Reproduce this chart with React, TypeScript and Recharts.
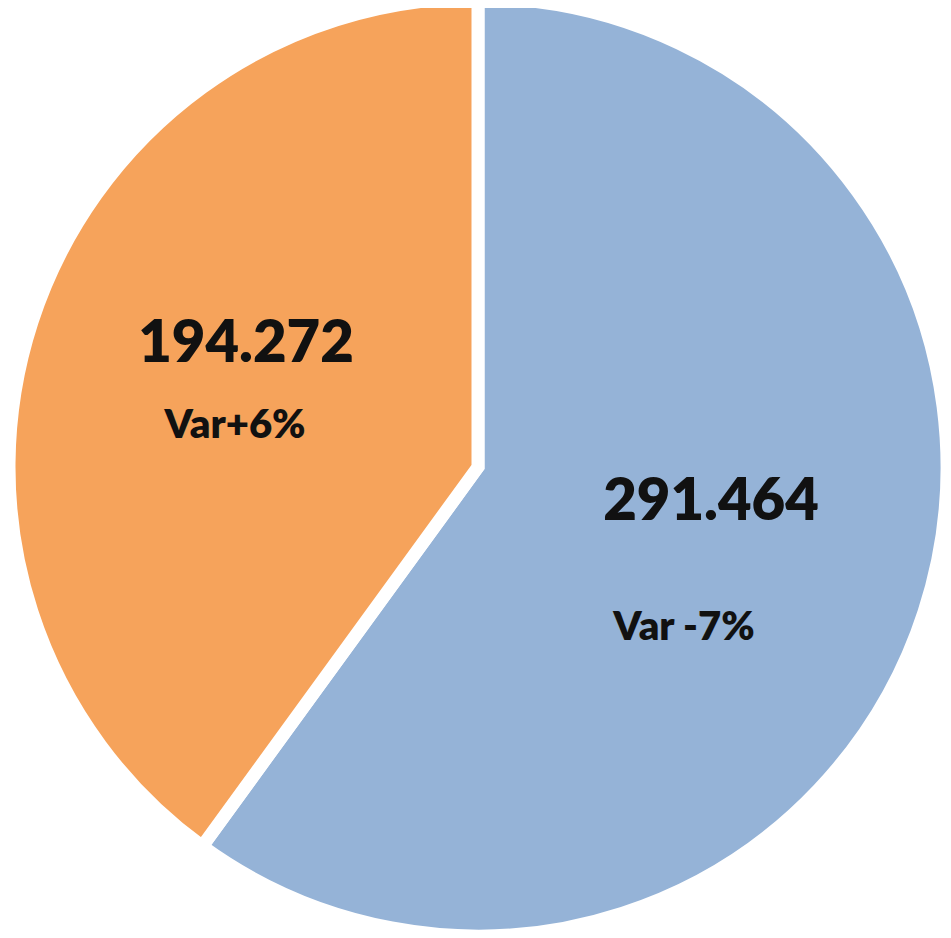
import { PieChart, Pie, Cell } from "recharts";

// slice values (thousands separator shown as ".")
const SEGMENTS = ["Segment A", "Segment B"];
const VALUES = [291.464, 194.272];
const VARIATIONS = ["Var -7%", "Var+6%"];
const COLORS = ["#95B3D7", "#F6A35B"];

// label offsets from the pie centre, one per slice
const LABEL_OFFSETS = [
  { value: [233, 53], variation: [206, 173] },
  { value: [-232, -105], variation: [-243, -29] },
];

const data = SEGMENTS.map((name, i) => ({ name, value: VALUES[i] }));

// eslint-disable-next-line @typescript-eslint/no-explicit-any
function renderLabel(props: any) {
  const { cx, cy, index } = props;
  const off = LABEL_OFFSETS[index];
  return (
    <g>
      <text
        x={cx + off.value[0]}
        y={cy + off.value[1]}
        textAnchor="middle"
        fill="#111"
        fontFamily="Lato, sans-serif"
        fontWeight={800}
        fontSize={58}
      >
        {VALUES[index].toFixed(3)}
      </text>
      <text
        x={cx + off.variation[0]}
        y={cy + off.variation[1]}
        textAnchor="middle"
        fill="#111"
        fontFamily="Lato, sans-serif"
        fontWeight={800}
        fontSize={40}
      >
        {VARIATIONS[index]}
      </text>
    </g>
  );
}

export default function App() {
  return (
    <div style={{ margin: -8, background: "#fff", width: 951, height: 938 }}>
      <PieChart width={951} height={938} margin={{ top: 0, right: 0, bottom: 0, left: 0 }}>
        <Pie
          data={data}
          dataKey="value"
          cx={478}
          cy={467}
          outerRadius={469}
          startAngle={90}
          endAngle={-270}
          stroke="#fff"
          strokeWidth={13}
          label={renderLabel}
          labelLine={false}
          isAnimationActive={false}
        >
          {data.map((d, i) => (
            <Cell key={d.name} fill={COLORS[i]} />
          ))}
        </Pie>
      </PieChart>
    </div>
  );
}
